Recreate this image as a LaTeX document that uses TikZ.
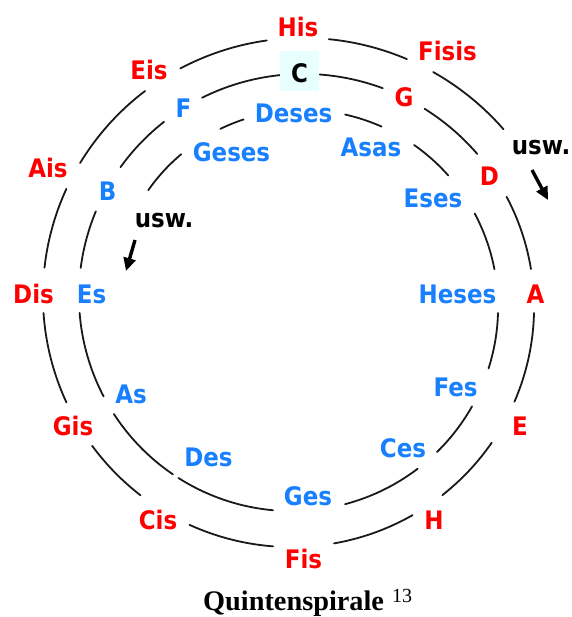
\documentclass[tikz,border=0pt]{standalone}
\usepackage{fontspec}
\setmainfont{Liberation Serif}
\newfontfamily\notefont[FakeStretch=0.9]{DejaVu Sans}
\usetikzlibrary{arrows.meta}
\definecolor{sharpred}{RGB}{255,0,0}
\definecolor{flatblue}{RGB}{24,128,255}
\definecolor{tonicbg}{RGB}{232,255,255}
\tikzset{
  spiralline/.style={line width=1.8pt, black!90, line cap=round},
  note/.style={font=\notefont\bfseries\fontsize{25.5}{30}\selectfont, inner sep=0pt, anchor=base},
  sharp/.style={note, text=sharpred},
  flat/.style={note, text=flatblue},
  hint/.style={note, text=black},
  hintarrow/.style={line width=3.4pt, -{Triangle[length=13pt,width=12pt]}},
}
\begin{document}
\begin{tikzpicture}[x=1pt, y=-1pt]
  % canvas
  \fill[white] (0,0) rectangle (571,617);
  \useasboundingbox (0,0) rectangle (571,617);

  % the spiral of fifths: r grows by 0.1 per degree, clockwise from the top
  \foreach \a/\b in {-413.3/-398.3, -384.1/-376.5, -345.7/-334.3, -323.3/-309.9,
                     -296.4/-279.3, -266.7/-250.7, -239.0/-222.8, -215.7/-193.2,
                     -173.3/-146.0, -144.2/-121.5, -116.1/-93.0, -81.2/-65.9,
                     -52.8/-36.6, -25.1/-4.4, 5.6/21.8, 33.4/50.6, 63.4/82.1,
                     92.8/114.8, 126.0/143.2, 151.7/171.4, 185.7/205.8,
                     219.0/234.9, 246.4/267.4, 277.6/296.0, 302.5/324.1,
                     333.3/353.3, 366.8/384.3, 390.6/410.1}
    \draw[spiralline] plot[domain=\a:\b, samples=30, smooth, variable=\t]
      ({297.5+(227.5+0.1*\t)*sin(\t)}, {301.5-(227.5+0.1*\t)*cos(\t)});

  % starting tone
  \node[note, text=black, fill=tonicbg, minimum width=39pt, minimum height=40pt,
        text height=24pt, text depth=0pt, anchor=center] (c) at (299.5,71) {C};

  % sharp side (outward)
  \node[sharp] (g)     at (404,107)   {G};
  \node[sharp] (d)     at (489.5,186) {D};
  \node[sharp] (a)     at (535.5,303) {A};
  \node[sharp] (e)     at (520,435)   {E};
  \node[sharp] (h)     at (434,529)   {H};
  \node[sharp] (fis)   at (303.5,568) {Fis};
  \node[sharp] (cis)   at (158,529)   {Cis};
  \node[sharp] (gis)   at (73,435)    {Gis};
  \node[sharp] (dis)   at (33.5,303)  {Dis};
  \node[sharp] (ais)   at (48,178)    {Ais};
  \node[sharp] (eis)   at (149,80)    {Eis};
  \node[sharp] (his)   at (298,37)    {His};
  \node[sharp] (fisis) at (447.5,61)  {Fisis};

  % flat side (inward)
  \node[flat] (f)     at (183.5,118) {F};
  \node[flat] (b)     at (107.5,201) {B};
  \node[flat] (es)    at (91.5,303)  {Es};
  \node[flat] (as)    at (131,403)   {As};
  \node[flat] (des)   at (208.5,466) {Des};
  \node[flat] (ges)   at (308,505)   {Ges};
  \node[flat] (ces)   at (403,457)   {Ces};
  \node[flat] (fes)   at (455.5,396) {Fes};
  \node[flat] (heses) at (457.5,303) {Heses};
  \node[flat] (eses)  at (433,208)   {Eses};
  \node[flat] (asas)  at (371,157)   {Asas};
  \node[flat] (deses) at (293.5,123) {Deses};
  \node[flat] (geses) at (231.5,162) {Geses};

  % continuation hints
  \node[hint] (uswR) at (541,155) {usw.};
  \node[hint] (uswL) at (164,228) {usw.};
  \coordinate (uswR-from) at (532,170);
  \coordinate (uswR-to)   at (548,200);
  \coordinate (uswL-from) at (135,240);
  \coordinate (uswL-to)   at (126,271);
  \draw[hintarrow] (uswR-from) -- (uswR-to);
  \draw[hintarrow] (uswL-from) -- (uswL-to);

  % caption
  \node[font=\bfseries\fontsize{28.3}{32}\selectfont, inner sep=0pt, anchor=base west]
    (title) at (203,610) {Quintenspirale};
  \node[font=\fontsize{20}{22}\selectfont, inner sep=0pt, anchor=base west]
    (footnote) at (392,602) {13};
\end{tikzpicture}
\end{document}
